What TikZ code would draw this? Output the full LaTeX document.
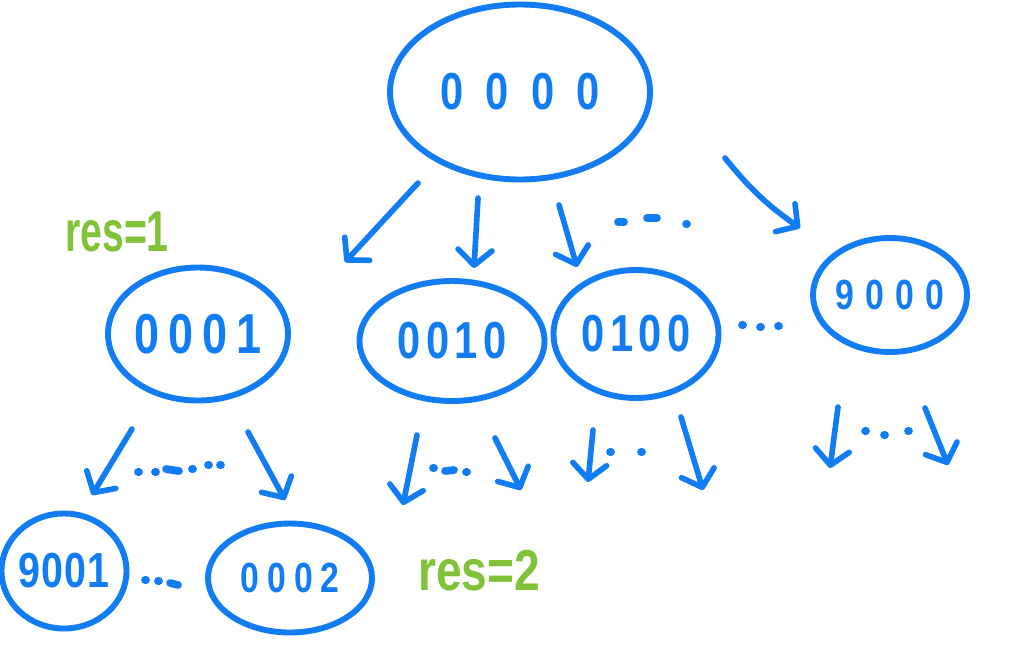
\documentclass[tikz,border=0pt]{standalone}
\usepackage{fontspec}
\setmainfont{Liberation Sans}
\usepackage{graphicx}
\usetikzlibrary{arrows.meta, shapes.geometric, positioning}
\definecolor{pen}{RGB}{18,124,245}
\definecolor{resgreen}{RGB}{128,194,56}
% row of hand written digits: pitch, font size, digits
\newcommand\digitrow[3]{\makebox[0pt]{\fontsize{#2}{#2}\selectfont\bfseries\foreach \d in {#3}{\makebox[#1]{\scalebox{0.8}[1]{\d}}}}}

\begin{document}
\begin{tikzpicture}[x=0.025cm, y=-0.025cm,
    bubble/.style n args={2}{ellipse, draw=pen, line width=4.2pt, inner sep=0pt,
      minimum width=#1*0.025cm, minimum height=#2*0.025cm, text=pen},
    arr/.style={pen, line width=4pt, line cap=round,
      -{Straight Barb[length=0.38cm, width=0.85cm, round]}},
    dotmark/.style={pen, line width=5.5pt, line cap=round},
    res/.style={text=resgreen, font=\fontsize{41pt}{41pt}\selectfont\bfseries}]
    \useasboundingbox (0,0) rectangle (1024,653);

    % states
    \node[bubble={260}{175}] (root) at (520,92) {\digitrow{1.13cm}{37pt}{0,0,0,0}};
    \node[bubble={180}{133}] (n0001) at (198,334) {\digitrow{0.85cm}{40pt}{0,0,0,1}};
    \node[bubble={185}{120}] (n0010) at (452,341) {\digitrow{0.72cm}{37pt}{0,0,1,0}};
    \node[bubble={165}{128}] (n0100) at (636,334) {\digitrow{0.72cm}{37pt}{0,1,0,0}};
    \node[bubble={154}{114}] (n9000) at (890,295) {\digitrow{0.75cm}{30pt}{9,0,0,0}};
    \node[bubble={125}{115}] (n9001) at (64,571) {\digitrow{0.58cm}{35pt}{9,0,0,1}};
    \node[bubble={164}{109}] (n0002) at (290,578) {\digitrow{0.67cm}{30pt}{0,0,0,2}};

    % step counters
    \node[res] (res1) at (117,232) {\scalebox{0.68}[1]{res=1}};
    \node[res] (res2) at (479,571) {\scalebox{0.8}[1]{res=2}};

    % turning one wheel
    \foreach \sx/\sy/\ex/\ey/\b [count=\i] in {418/183/345/262/0, 478/198/474/268/0,
        559/205/577/267/0, 725/158/800/228/-8, 132/429/92/495/0, 248/432/285/500/0,
        417/435/403/505/0, 495/438/521/490/0, 593/430/588/482/0, 681/417/703/490/0,
        838/407/830/468/0, 925/408/948/465/0}
    {
        \coordinate (s\i) at (\sx,\sy);
        \coordinate (e\i) at (\ex,\ey);
        \draw[arr] (s\i) to[bend left=\b] (e\i);
    }

    % dots
    \foreach \x/\y/\dx/\dy in {618/222/6/0, 647/218/10/0, 686/224/1/0,
        742/325/1/0, 760/327/1/0, 778/326/1/0,
        138/472/1/0, 155/472/1/0, 166/469/13/2, 192/469/1/0, 208/465/1/0, 220/465/1/0,
        433/468/1/0, 445/471/9/-1, 466/472/1/0,
        610/452/1/0, 641/452/1/0,
        865/431/1/0, 884/435/1/0, 908/431/1/0,
        145/580/1/0, 158/581/1/0, 170/583/8/2}
        \draw[dotmark] (\x,\y) -- ++(\dx,\dy);
\end{tikzpicture}
\end{document}
